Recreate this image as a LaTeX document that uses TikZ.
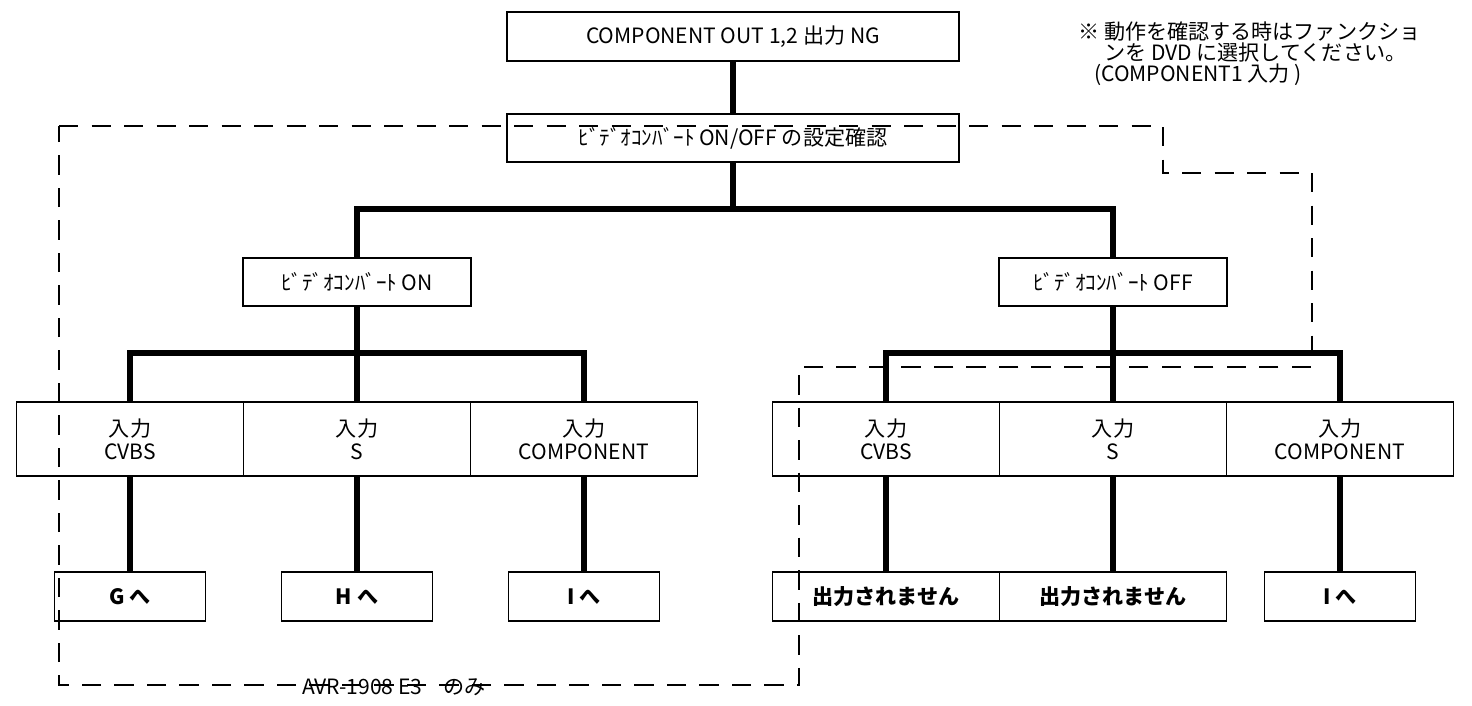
\documentclass[tikz,border=0pt]{standalone}
\usepackage{fontspec}
\setmainfont{Noto Sans CJK JP}
\usepackage{tikz}

\begin{document}
\begin{tikzpicture}[x=0.02cm, y=-0.02cm,
  box/.style={draw, line width=1.1pt, inner sep=0pt, align=center, font=\fontsize{12}{13}\selectfont},
  topbox/.style={box, minimum width=9.04cm, minimum height=0.97cm},
  modebox/.style={box, minimum width=4.55cm, minimum height=0.96cm},
  inbox/.style={box, minimum width=4.54cm, minimum height=1.48cm},
  endbox/.style={box, minimum width=3.02cm, minimum height=0.98cm, font=\fontsize{12}{13}\selectfont\bfseries},
  bus/.style={line width=3pt},
  area/.style={line width=0.9pt, dash pattern=on 11pt off 7.5pt}]
\useasboundingbox (0,0) rectangle (1472,706);
\node[topbox] (ng) at (733,36.5) {COMPONENT OUT 1,2 出力 NG};
\node[topbox] (cfg) at (733,138) {ﾋﾞﾃﾞｵｺﾝﾊﾞｰﾄ ON/OFF の設定確認};
\node[modebox] (on) at (357,282) {ﾋﾞﾃﾞｵｺﾝﾊﾞｰﾄ ON};
\node[modebox] (off) at (1113,282) {ﾋﾞﾃﾞｵｺﾝﾊﾞｰﾄ OFF};
\node[inbox] (oncv) at (130,439) {入力\\CVBS};
\node[inbox] (ons) at (357,439) {入力\\S};
\node[inbox] (oncp) at (584,439) {入力\\COMPONENT};
\node[inbox] (offcv) at (886,439) {入力\\CVBS};
\node[inbox] (offs) at (1113,439) {入力\\S};
\node[inbox] (offcp) at (1340,439) {入力\\COMPONENT};
\node[endbox] (g) at (130,596.5) {G へ};
\node[endbox] (h) at (357,596.5) {H へ};
\node[endbox] (i) at (584,596.5) {I へ};
\node[endbox, minimum width=4.54cm] (nocv) at (886,596.5) {出力されません};
\node[endbox, minimum width=4.54cm] (nos) at (1113,596.5) {出力されません};
\node[endbox] (ioff) at (1340,596.5) {I へ};
\node[anchor=north west, align=left, inner sep=0pt, font=\fontsize{12}{12.2}\selectfont] (note) at (1078,21)
  {※ 動作を確認する時はファンクショ\\\phantom{※ }ンを DVD に選択してください。\\\hspace{0.75em}(COMPONENT1 入力 )};
\draw[bus] (ng) -- (cfg);
\draw[bus] (cfg.south) -- ++(0,48);
\draw[bus] (on.north) -- ++(0,-48) -| (off.north);
\draw[bus] (on) -- (ons);
\draw[bus] (oncv.north) -- ++(0,-48) -| (oncp.north);
\draw[bus] (off) -- (offs);
\draw[bus] (offcv.north) -- ++(0,-48) -| (offcp.north);
\draw[bus] (oncv) -- (g);
\draw[bus] (ons) -- (h);
\draw[bus] (oncp) -- (i);
\draw[bus] (offcv) -- (nocv);
\draw[bus] (offs) -- (nos);
\draw[bus] (offcp) -- (ioff);
\draw[area] (59,126) -- (1163,126) -- (1163,173) -- (1312,173) -- (1312,367) -- (799,367) -- (799,685) -- (59,685) -- cycle;
\node[font=\fontsize{12}{13}\selectfont] (only) at (394,687) {AVR-1908 E3　のみ};
\end{tikzpicture}
\end{document}
